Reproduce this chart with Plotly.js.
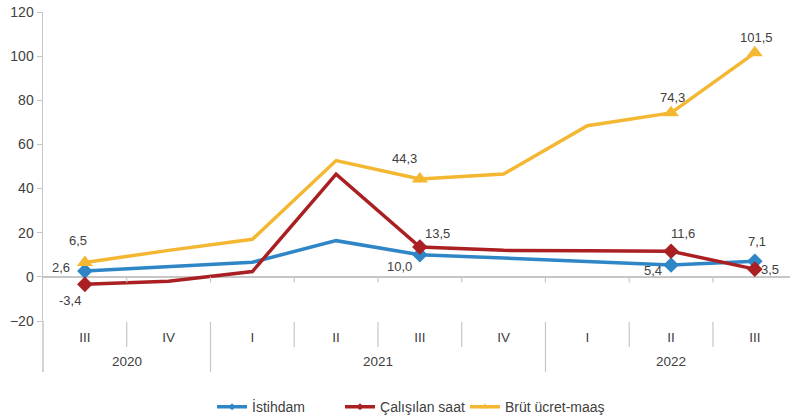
<!DOCTYPE html>
<html>
<head>
<meta charset="utf-8">
<script src="https://cdn.plot.ly/plotly-3.0.1.min.js"></script>
<style>html,body{margin:0;padding:0;background:#fff;}#chart{width:790px;height:418px;}</style>
</head>
<body>
<div id="chart"></div>
<script>
// ---- data ----
const quarters = ['III','IV','I','II','III','IV','I','II','III'];
const years = ['2020','2020','2021','2021','2021','2021','2022','2022','2022'];
const istihdam = [2.6, 4.5, 6.6, 16.4, 10.0, 8.5, 6.8, 5.4, 7.1];
const calisilanSaat = [-3.4, -2.0, 2.4, 46.5, 13.5, 12.0, 11.8, 11.6, 3.5];
const brutUcret = [6.5, 12.0, 17.0, 52.7, 44.3, 46.6, 68.5, 74.3, 101.5];
const labeledIdx = [0, 4, 7, 8];
const yTicks = [-20, 0, 20, 40, 60, 80, 100, 120];

// ---- styling / positions ----
const FONT = 'Liberation Sans, Arial, sans-serif';
const TXT = '#404040';
const colors = {ist: '#2F86C6', cal: '#A91F22', brut: '#F4B731'};
const labelOffsets = {
  ist:  {0: [-24, -4], 4: [-20, 12], 7: [-18, 6], 8: [2, -20]},
  cal:  {0: [-15, 16], 4: [18, -14], 7: [12, -18], 8: [15, 0]},
  brut: {0: [-7, -22], 4: [-15, -21], 7: [1, -15], 8: [2, -15]}
};
const legendPos = {ist: 0.2684, cal: 0.4304, brut: 0.5886};
const xs = quarters.map((q, i) => i);
function sizes(s) { return xs.map(i => labeledIdx.includes(i) ? s : 0); }
const fmt = v => v.toFixed(1).replace('.', ',');

const series = [
  {key: 'ist', name: 'İstihdam', y: istihdam, symbol: 'diamond', size: 12, legend: 'legend'},
  {key: 'cal', name: 'Çalışılan saat', y: calisilanSaat, symbol: 'diamond', size: 12, legend: 'legend2'},
  {key: 'brut', name: 'Brüt ücret-maaş', y: brutUcret, symbol: 'triangle-up', size: 14, legend: 'legend3'}
];

const traces = series.map(s => ({
  type: 'scatter', mode: 'lines+markers', name: s.name, x: xs, y: s.y, legend: s.legend,
  line: {color: colors[s.key], width: 3.5},
  marker: {color: colors[s.key], symbol: s.symbol, size: sizes(s.size), opacity: 1, line: {width: 0}},
  hoverinfo: 'skip'
}));

const annotations = [];
series.forEach(s => {
  labeledIdx.forEach(i => {
    const off = labelOffsets[s.key][i];
    annotations.push({
      x: xs[i], y: s.y[i], xref: 'x', yref: 'y', text: fmt(s.y[i]), showarrow: false,
      xshift: off[0], yshift: -off[1], font: {family: FONT, size: 13, color: TXT}
    });
  });
});

// year labels and separators
const groups = [];
years.forEach((y, i) => {
  if (!groups.length || groups[groups.length - 1].year !== y) groups.push({year: y, start: i, end: i});
  else groups[groups.length - 1].end = i;
});
groups.forEach(g => {
  annotations.push({
    x: (g.start + g.end) / 2, y: -0.132, xref: 'x', yref: 'paper', text: g.year, showarrow: false,
    yanchor: 'middle', font: {family: FONT, size: 13.5, color: TXT}
  });
});

const shapes = [];
const gray = '#c6c6c6';
for (let i = 0; i < xs.length - 1; i++) {
  const b = i + 0.5;
  const isYear = years[i] !== years[i + 1];
  shapes.push({type: 'line', xref: 'x', yref: 'paper', x0: b, x1: b, y0: -0.003, y1: isYear ? -0.165 : -0.084,
    line: {color: gray, width: 1.2}});
  shapes.push({type: 'line', xref: 'x', yref: 'y', x0: b, x1: b, y0: 0, y1: -2.6,
    line: {color: gray, width: 1.2}});
}
// extension of y-axis line below plot
shapes.push({type: 'line', xref: 'paper', yref: 'paper', x0: 0, x1: 0, y0: -0.165, y1: 0,
  line: {color: gray, width: 1.5}});

function legendCfg(key) {
  return {orientation: 'h', xref: 'container', yref: 'container', x: legendPos[key], xanchor: 'left',
    y: 0.026, yanchor: 'middle', bgcolor: 'rgba(0,0,0,0)',
    font: {family: FONT, size: 14, color: TXT}, itemwidth: 30};
}

const layout = {
  width: 790, height: 418,
  margin: {l: 43, r: 0, t: 12, b: 97, autoexpand: false},
  paper_bgcolor: '#fff', plot_bgcolor: '#fff',
  font: {family: FONT, size: 13, color: TXT},
  showlegend: true,
  legend: legendCfg('ist'),
  legend2: legendCfg('cal'),
  legend3: legendCfg('brut'),
  xaxis: {
    range: [-0.5, 8.42], tickmode: 'array', tickvals: xs, ticktext: quarters,
    showgrid: false, zeroline: false, showline: false, ticks: '', fixedrange: true,
    ticklabelstandoff: 6,
    tickfont: {family: FONT, size: 13.5, color: TXT}
  },
  yaxis: {
    range: [-20, 120], tickmode: 'array', tickvals: yTicks, showgrid: false,
    zeroline: true, zerolinecolor: gray, zerolinewidth: 2,
    showline: true, linecolor: gray, linewidth: 1.5,
    ticks: 'outside', ticklen: 5, tickcolor: gray, tickwidth: 1,
    tickfont: {family: FONT, size: 14, color: TXT}, fixedrange: true
  },
  annotations: annotations,
  shapes: shapes
};

Plotly.newPlot('chart', traces, layout, {displayModeBar: false, staticPlot: true});
</script>
</body>
</html>
